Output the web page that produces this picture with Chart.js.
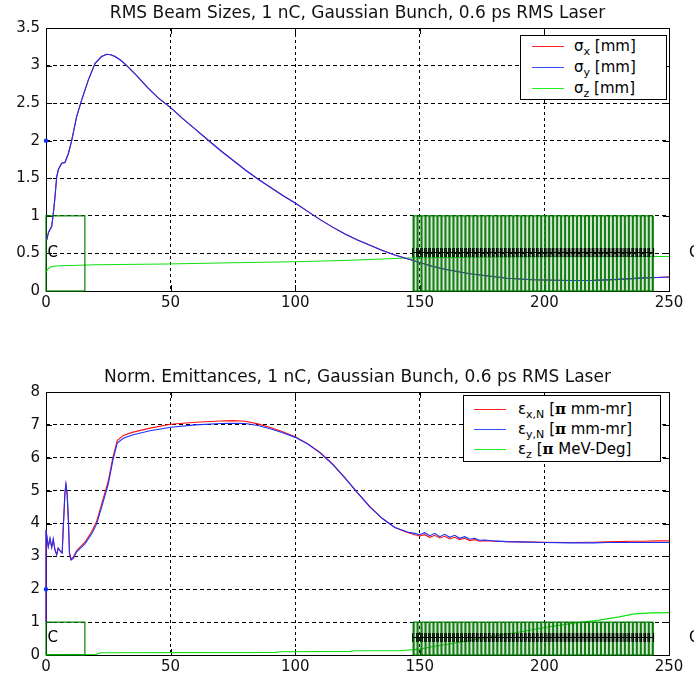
<!DOCTYPE html>
<html><head><meta charset="utf-8">
<script src="https://cdn.jsdelivr.net/npm/chart.js@4.4.1/dist/chart.umd.min.js"></script>
<style>
html,body{margin:0;padding:0;background:#fff;}
body{width:694px;height:677px;position:relative;overflow:hidden;font-family:"DejaVu Sans",sans-serif;}
.pane{position:absolute;left:0;width:694px;}
.legend{position:absolute;background:#fff;border:1px solid #000;box-sizing:border-box;color:#000;font-size:15px;}
.sw{position:absolute;height:1px;width:32px;}
.tx{position:absolute;line-height:20px;white-space:nowrap;}
.tx sub{font-size:11px;vertical-align:-4px;line-height:0;}
.pi{font-family:"DejaVu Serif",serif;font-weight:bold;}
</style></head>
<body>
<div class="pane" style="top:0;height:338px"><canvas id="c1" width="694" height="338"></canvas></div>
<div class="pane" style="top:338px;height:339px"><canvas id="c2" width="694" height="339"></canvas></div>

<div class="legend" style="left:520px;top:35px;width:147px;height:65px">
  <div class="sw" style="left:11px;top:10px;background:#ff2020"></div>
  <div class="tx" style="left:53px;top:0px">σ<sub>x</sub> [mm]</div>
  <div class="sw" style="left:11px;top:31px;background:#3050ff"></div>
  <div class="tx" style="left:53px;top:21px">σ<sub>y</sub> [mm]</div>
  <div class="sw" style="left:11px;top:52px;background:#20f020"></div>
  <div class="tx" style="left:53px;top:42px">σ<sub>z</sub> [mm]</div>
</div>
<div class="legend" style="left:463px;top:395px;width:198px;height:67px">
  <div class="sw" style="left:10px;top:13px;background:#ff2020"></div>
  <div class="tx" style="left:54px;top:3px">ε<sub>x,N</sub> [<span class="pi">π</span> mm-mr]</div>
  <div class="sw" style="left:10px;top:33px;background:#3050ff"></div>
  <div class="tx" style="left:54px;top:23px">ε<sub>y,N</sub> [<span class="pi">π</span> mm-mr]</div>
  <div class="sw" style="left:10px;top:53px;background:#20f020"></div>
  <div class="tx" style="left:54px;top:43px">ε<sub>z</sub> [<span class="pi">π</span> MeV-Deg]</div>
</div>

<script>
// ---------- data ----------
const xTicks = [0, 50, 100, 150, 200, 250];
const yTicksTop = [0, 0.5, 1, 1.5, 2, 2.5, 3, 3.5];
const yTicksBottom = [0, 1, 2, 3, 4, 5, 6, 7, 8];

const titleTop = 'RMS Beam Sizes, 1 nC, Gaussian Bunch, 0.6 ps RMS Laser';
const titleBottom = 'Norm. Emittances, 1 nC, Gaussian Bunch, 0.6 ps RMS Laser';

// top panel: rms beam sizes
const zTop = [0.3, 1.0, 2.3, 3.0, 3.6, 4.3, 5.0, 6.3, 7.6, 9.0, 10.3, 12.3, 14.3, 17.0, 19.7, 22.3, 24.4, 26.0, 27.7, 30.0, 32.4, 36.0, 41.0, 45.0, 50, 55, 60, 65, 70, 75, 80, 85, 90, 95, 100, 105, 110, 115, 120, 125, 130, 135, 140, 145, 150, 155, 160, 165, 170, 175, 180, 185, 190, 195, 200, 210, 220, 230, 235, 240, 245, 250];
const sigmaX = [0.68, 0.78, 0.86, 1.05, 1.25, 1.52, 1.62, 1.70, 1.71, 1.83, 2.00, 2.32, 2.54, 2.81, 3.03, 3.12, 3.15, 3.145, 3.12, 3.07, 3.00, 2.88, 2.70, 2.57, 2.44, 2.29, 2.15, 2.01, 1.87, 1.74, 1.61, 1.49, 1.38, 1.27, 1.17, 1.06, 0.95, 0.85, 0.76, 0.68, 0.61, 0.54, 0.48, 0.43, 0.38, 0.33, 0.29, 0.26, 0.23, 0.21, 0.19, 0.17, 0.16, 0.15, 0.146, 0.14, 0.142, 0.155, 0.165, 0.175, 0.18, 0.186];
const sigmaY = [0.68, 0.78, 0.86, 1.05, 1.25, 1.52, 1.62, 1.70, 1.71, 1.83, 2.00, 2.32, 2.54, 2.81, 3.03, 3.12, 3.15, 3.145, 3.12, 3.07, 3.00, 2.88, 2.70, 2.57, 2.44, 2.29, 2.15, 2.01, 1.87, 1.74, 1.61, 1.49, 1.38, 1.27, 1.17, 1.06, 0.95, 0.85, 0.76, 0.68, 0.61, 0.54, 0.48, 0.43, 0.38, 0.33, 0.29, 0.26, 0.23, 0.21, 0.19, 0.17, 0.16, 0.15, 0.146, 0.14, 0.142, 0.155, 0.165, 0.175, 0.18, 0.186];
const zSigZ = [0, 0.5, 1.6, 3, 5.6, 10, 20, 48, 75, 100, 122, 145, 170, 200, 250];
const sigmaZ = [0.25, 0.28, 0.315, 0.33, 0.337, 0.34, 0.35, 0.36, 0.375, 0.39, 0.41, 0.44, 0.45, 0.455, 0.46];

// bottom panel: normalized emittances
const zEm = [0, 0, 0.9, 1.6, 2.3, 2.9, 3.6, 4.3, 4.9, 5.9, 6.5, 6.9, 7.6, 8.0, 8.5, 9.0, 9.4, 10, 11, 12.3, 15.6, 18.3, 20.3, 22.3, 25, 26.8, 28.6, 31, 35, 41.7, 50, 60, 70, 75, 80, 85, 90, 95, 100, 105, 110, 115, 120, 125, 130, 135, 140, 145, 148, 150, 152, 154, 156, 158, 160, 162, 164, 166, 168, 170, 172, 174, 176, 180, 185, 190, 200, 210, 220, 225, 230, 235, 240, 245, 250];
const epsX = [1.0, 3.8, 3.30, 3.52, 3.28, 3.50, 3.20, 3.06, 3.24, 3.15, 3.12, 3.85, 4.95, 5.18, 4.85, 4.05, 3.12, 2.92, 2.98, 3.18, 3.43, 3.75, 4.06, 4.58, 5.30, 6.00, 6.52, 6.68, 6.78, 6.90, 7.02, 7.08, 7.12, 7.13, 7.11, 7.03, 6.92, 6.79, 6.64, 6.43, 6.16, 5.81, 5.39, 4.94, 4.51, 4.15, 3.88, 3.73, 3.66, 3.62, 3.66, 3.58, 3.64, 3.56, 3.61, 3.53, 3.58, 3.51, 3.55, 3.48, 3.51, 3.46, 3.48, 3.46, 3.45, 3.44, 3.43, 3.42, 3.43, 3.44, 3.45, 3.46, 3.46, 3.47, 3.47];
const epsY = [1.0, 3.8, 3.29, 3.56, 3.26, 3.53, 3.19, 3.04, 3.26, 3.14, 3.10, 3.80, 4.92, 5.20, 4.90, 4.10, 3.10, 2.89, 2.94, 3.14, 3.38, 3.68, 3.98, 4.49, 5.20, 5.91, 6.45, 6.59, 6.70, 6.82, 6.93, 7.00, 7.04, 7.05, 7.04, 6.98, 6.88, 6.76, 6.62, 6.42, 6.15, 5.80, 5.38, 4.93, 4.50, 4.15, 3.88, 3.74, 3.70, 3.66, 3.72, 3.63, 3.70, 3.60, 3.67, 3.58, 3.64, 3.55, 3.60, 3.52, 3.55, 3.49, 3.50, 3.47, 3.45, 3.44, 3.42, 3.41, 3.41, 3.42, 3.42, 3.42, 3.42, 3.42, 3.42];
const zEpsZ = [0, 20, 22, 92, 94, 122, 124, 142, 150, 155, 160, 170, 182, 190, 202, 212, 222, 230, 236, 243, 250];
const epsZ = [0.01, 0.02, 0.07, 0.08, 0.10, 0.11, 0.13, 0.13, 0.18, 0.25, 0.31, 0.44, 0.60, 0.70, 0.86, 0.97, 1.06, 1.16, 1.25, 1.28, 1.29];

// start marker on both panels
const markerZ = [0];
const markerTop = [2];
const markerBottom = [2];

// beamline elements (drawn at height 0..1)
const cavityStart = [0];
const cavityEnd = [15.6];
const cellEdges = [147.5, 149.1, 150.7, 152.3, 153.9, 155.5, 157.1, 158.7, 160.3, 161.9, 163.5, 165.1, 166.7, 168.3, 169.9, 171.5, 173.1, 174.7, 176.3, 177.9, 179.5, 181.1, 182.7, 184.3, 185.9, 187.5, 189.1, 190.7, 192.3, 193.9, 195.5, 197.1, 198.7, 200.3, 201.9, 203.5, 205.1, 206.7, 208.3, 209.9, 211.5, 213.1, 214.7, 216.3, 217.9, 219.5, 221.1, 222.7, 224.3, 225.9, 227.5, 229.1, 230.7, 232.3, 233.9, 235.5, 237.1, 238.7, 240.3, 241.9, 243.5];
const elementLabelZ = [0.6, 258];
const elementLabels = ['C', 'C'];
const cellLabel = 'H';
const elementLabelY = 0.5;

// ---------- helpers ----------
const pts = (xs, ys) => xs.map((x, i) => ({x: x, y: ys[i]}));

Chart.defaults.font.family = "'DejaVu Sans', sans-serif";
Chart.defaults.font.size = 15;
Chart.defaults.color = '#000';

const matlabPlugin = {
  id: 'matlab',
  beforeDatasetsDraw(chart) {
    const {ctx, chartArea: a} = chart;
    const xs = chart.scales.x, ys = chart.scales.y;
    ctx.save();
    ctx.setLineDash([]);
    ctx.strokeStyle = '#000';
    ctx.lineWidth = 1;
    ctx.strokeRect(a.left + 0.5, a.top + 0.5, a.right - a.left, a.bottom - a.top);
    ctx.beginPath();
    xs.ticks.forEach(t => {
      const px = Math.round(xs.getPixelForValue(t.value)) + 0.5;
      ctx.moveTo(px, a.bottom); ctx.lineTo(px, a.bottom - 6);
      ctx.moveTo(px, a.top); ctx.lineTo(px, a.top + 6);
    });
    ys.ticks.forEach(t => {
      const py = Math.round(ys.getPixelForValue(t.value)) + 0.5;
      ctx.moveTo(a.left, py); ctx.lineTo(a.left + 6, py);
      ctx.moveTo(a.right, py); ctx.lineTo(a.right - 6, py);
    });
    ctx.stroke();
    ctx.restore();
  },
  afterDatasetsDraw(chart) {
    const {ctx} = chart;
    const xs = chart.scales.x, ys = chart.scales.y;
    const y0 = ys.getPixelForValue(0), y1 = ys.getPixelForValue(1);
    ctx.save();
    ctx.setLineDash([]);
    // cavity boxes
    ctx.strokeStyle = '#008000';
    ctx.lineWidth = 1.2;
    cavityStart.forEach((s, i) => {
      const l = xs.getPixelForValue(s), r = xs.getPixelForValue(cavityEnd[i]);
      ctx.strokeRect(l, y1, r - l, y0 - y1);
    });
    // linac cells
    const bl = xs.getPixelForValue(cellEdges[0]);
    const br = xs.getPixelForValue(cellEdges[cellEdges.length - 1]);
    ctx.fillStyle = 'rgba(60,140,60,0.22)';
    ctx.fillRect(bl, y1, br - bl, y0 - y1);
    ctx.strokeStyle = '#137f13';
    ctx.lineWidth = 2;
    ctx.beginPath();
    cellEdges.forEach(e => {
      const px = xs.getPixelForValue(e);
      ctx.moveTo(px, y0); ctx.lineTo(px, y1);
    });
    ctx.stroke();
    ctx.strokeStyle = '#008000';
    ctx.lineWidth = 1.2;
    ctx.strokeRect(bl, y1, br - bl, y0 - y1);
    // labels
    ctx.fillStyle = '#000';
    ctx.textBaseline = 'middle';
    ctx.textAlign = 'center';
    ctx.font = "12px 'DejaVu Sans'";
    const ly = ys.getPixelForValue(elementLabelY);
    for (let i = 0; i < cellEdges.length - 1; i++) {
      const cx = xs.getPixelForValue((cellEdges[i] + cellEdges[i + 1]) / 2);
      ctx.fillText(cellLabel, cx, ly);
    }
    ctx.textAlign = 'left';
    ctx.font = "15px 'DejaVu Sans'";
    elementLabels.forEach((t, i) => ctx.fillText(t, xs.getPixelForValue(elementLabelZ[i]), ly));
    ctx.restore();
  }
};

function makeChart(id, cfg) {
  const line = (data, color, order) => ({
    data: data, borderColor: color, backgroundColor: color, borderWidth: 1.1,
    pointRadius: 0, tension: 0, fill: false, order: order, clip: 4
  });
  const datasets = cfg.series.map(s => line(s.data, s.color, s.order));
  datasets.push({data: cfg.marker, showLine: false, pointRadius: 2.2, pointBackgroundColor: '#1030ff',
                 pointBorderColor: '#1030ff', borderWidth: 0, order: -1, clip: 6});
  return new Chart(document.getElementById(id), {
    type: 'line',
    data: {datasets: datasets},
    plugins: [matlabPlugin],
    options: {
      responsive: false, animation: false, devicePixelRatio: 1,
      layout: {padding: cfg.padding},
      plugins: {
        legend: {display: false}, tooltip: {enabled: false},
        title: {display: true, text: cfg.title, fullSize: false, color: '#111',
                font: {size: 17, weight: 'normal'}, padding: {top: 3, bottom: 4.6}}
      },
      scales: {
        x: {
          type: 'linear', min: 0, max: 250,
          afterBuildTicks: s => { s.ticks = xTicks.map(v => ({value: v})); },
          afterFit: s => { s.height = cfg.xh; s.paddingLeft = 0; s.paddingRight = 0; },
          ticks: {padding: 3, maxRotation: 0, autoSkip: false, color: '#111', font: {size: 15},
                  callback: v => String(v)},
          grid: {color: '#000', lineWidth: 1, drawTicks: false},
          border: {display: false, dash: [3, 3]}
        },
        y: {
          type: 'linear', min: cfg.yTicks[0], max: cfg.yTicks[cfg.yTicks.length - 1],
          afterBuildTicks: s => { s.ticks = cfg.yTicks.map(v => ({value: v})); },
          afterFit: s => { s.width = 46; s.paddingTop = 0; s.paddingBottom = 0; },
          ticks: {padding: 6, autoSkip: false, color: '#111', font: {size: 15},
                  callback: v => String(v)},
          grid: {color: '#000', lineWidth: 1, drawTicks: false},
          border: {display: false, dash: [4, 3]}
        }
      }
    }
  });
}

makeChart('c1', {
  title: titleTop, yTicks: yTicksTop, xh: 30,
  padding: {left: 0, right: 25, top: 0, bottom: 17},
  marker: pts(markerZ, markerTop),
  series: [
    {data: pts(zTop, sigmaX), color: '#ff1010', order: 2},
    {data: pts(zTop, sigmaY), color: '#1a30ff', order: 1},
    {data: pts(zSigZ, sigmaZ), color: '#10e010', order: 3}
  ]
});

makeChart('c2', {
  title: titleBottom, yTicks: yTicksBottom, xh: 22,
  padding: {left: 0, right: 25, top: 26, bottom: 0},
  marker: pts(markerZ, markerBottom),
  series: [
    {data: pts(zEm, epsX), color: '#ff1010', order: 2},
    {data: pts(zEm, epsY), color: '#1a30ff', order: 1},
    {data: pts(zEpsZ, epsZ), color: '#10e010', order: 3}
  ]
});
</script>
</body></html>
